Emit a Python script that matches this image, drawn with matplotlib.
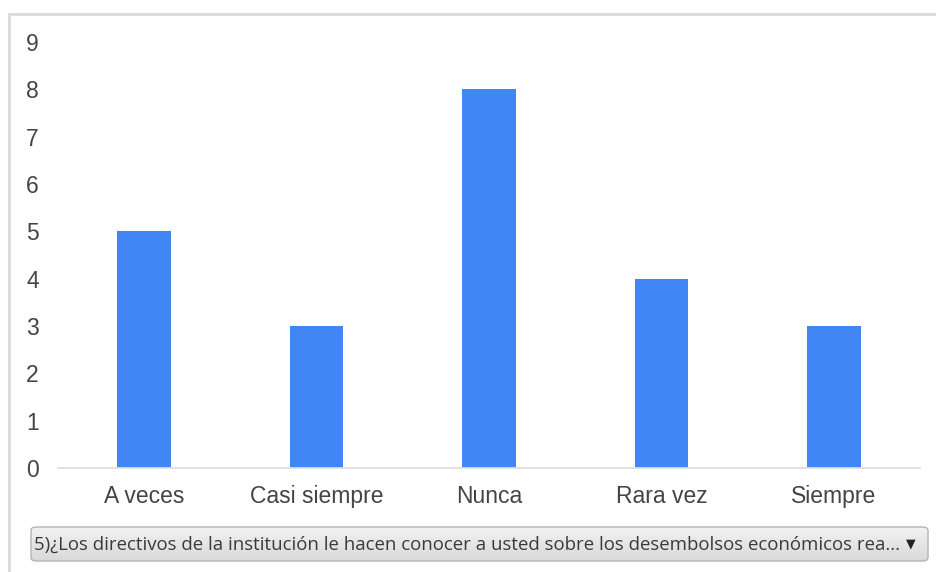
import numpy as np
import matplotlib
matplotlib.use("Agg")
import matplotlib.pyplot as plt
from matplotlib.patches import FancyBboxPatch
from matplotlib.lines import Line2D
from matplotlib.colors import LinearSegmentedColormap

categories = ["A veces", "Casi siempre", "Nunca", "Rara vez", "Siempre"]
counts = [5, 3, 8, 4, 3]
y_ticks = list(range(0, 10))
question = ("5)¿Los directivos de la institución le hacen conocer a usted "
            "sobre los desembolsos económicos rea...")

W, H = 936, 572
fig = plt.figure(figsize=(W / 100, H / 100), dpi=100)
fig.patch.set_facecolor("white")

# outer frame lines (top and left)
fig.add_artist(Line2D([9 / W, 1], [1 - 14 / H, 1 - 14 / H], color="#dcdcdc", lw=2.2))
fig.add_artist(Line2D([9 / W, 9 / W], [0, 1 - 14 / H], color="#dcdcdc", lw=2.2))

ax = fig.add_axes([58 / W, 1 - 468 / H, (920 - 58) / W, (468 - 42) / H])
x = np.arange(len(categories))
ax.bar(x, counts, width=0.31, color="#4285f4", zorder=2)
ax.set_xlim(-0.5, len(categories) - 0.5)
ax.set_ylim(0, 9)
ax.set_yticks(y_ticks)
ax.set_yticklabels([str(v) for v in y_ticks], ha="left")
ax.set_xticks(x)
ax.set_xticklabels(categories)
for s in ["top", "right", "left"]:
    ax.spines[s].set_visible(False)
ax.spines["bottom"].set_color("#dedede")
ax.spines["bottom"].set_linewidth(1.3)
ax.tick_params(axis="both", length=0, colors="#444444", labelsize=16.5)
ax.tick_params(axis="y", pad=23)
ax.tick_params(axis="x", pad=12)
for lbl in ax.get_xticklabels() + ax.get_yticklabels():
    lbl.set_fontfamily("Liberation Sans")

# dropdown-like box with vertical gradient
x0, x1 = 31 / W, 928 / W
y0, y1 = 1 - 561 / H, 1 - 527 / H
box = FancyBboxPatch((x0, y0), x1 - x0, y1 - y0,
                     boxstyle="round,pad=0,rounding_size=0.006",
                     transform=fig.transFigure, facecolor="none",
                     edgecolor="#b4b4b4", lw=1.0, zorder=3)
fig.add_artist(box)
grad = np.linspace(0, 1, 64).reshape(-1, 1)
gax = fig.add_axes([x0, y0, x1 - x0, y1 - y0], zorder=-1)
gax.set_axis_off()
im = gax.imshow(grad, aspect="auto",
                cmap=LinearSegmentedColormap.from_list("g", ["#f2f2f2", "#d9d9d9"]),
                extent=[0, 1, 0, 1])
box2 = FancyBboxPatch((x0, y0), x1 - x0, y1 - y0,
                      boxstyle="round,pad=0,rounding_size=0.006",
                      transform=fig.transFigure, facecolor="none", edgecolor="none")
fig.add_artist(box2)
box2.set_visible(False)
im.set_clip_path(box2)

fig.text(34 / W, 1 - 545 / H, question, fontsize=13.4, family="Open Sans",
         color="#3a3a3a", va="center", ha="left", zorder=4)
fig.text(911 / W, 1 - 544 / H, "▼", fontsize=9, family="DejaVu Sans",
         color="#222222", va="center", ha="center", zorder=4)

fig.savefig("out.png", dpi=100, facecolor="white")
